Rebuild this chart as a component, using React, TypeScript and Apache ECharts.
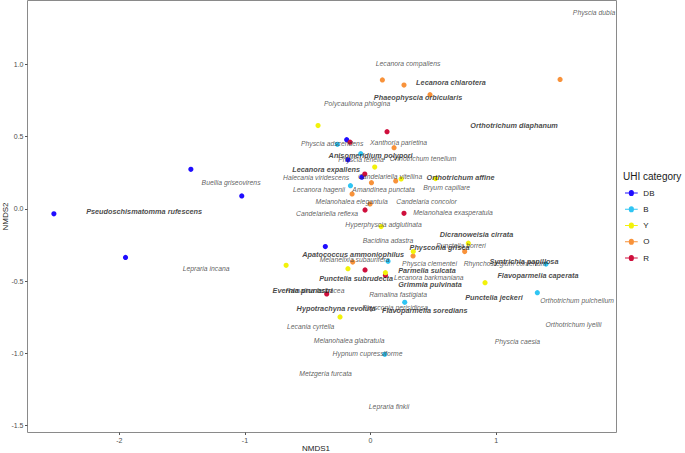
import React, { useEffect, useRef } from "react";
import * as echarts from "echarts";

const categories = ["DB", "B", "Y", "O", "R"];
const categoryColors = ["#1f0dff", "#30c5f3", "#f2f20a", "#f8923a", "#cf0f3c"];

const sitesDB = [[-2.52, -0.033], [-1.95, -0.335], [-1.43, 0.275], [-1.025, 0.09], [-0.19, 0.48], [-0.18, 0.34], [-0.07, 0.22], [-0.36, -0.26]];
const sitesB = [[-0.264, 0.448], [-0.078, 0.383], [-0.16, 0.161], [0.139, -0.362], [0.272, -0.646], [0.113, -1.006], [1.327, -0.579], [1.396, -0.381]];
const sitesY = [[-0.418, 0.577], [0.033, 0.29], [0.243, 0.208], [0.517, 0.211], [0.084, -0.122], [0.778, -0.237], [0.34, -0.295], [-0.672, -0.39], [-0.18, -0.413], [0.118, -0.441], [-0.243, -0.747], [0.911, -0.51]];
const sitesO = [[0.094, 0.893], [0.266, 0.858], [0.473, 0.791], [1.508, 0.897], [0.187, 0.424], [0.007, 0.182], [0.2, 0.194], [-0.147, 0.104], [-0.004, 0.035], [0.338, -0.325], [-0.142, -0.367], [0.749, -0.295]];
const sitesR = [[0.131, 0.535], [-0.163, 0.462], [-0.046, 0.242], [-0.044, -0.007], [0.266, -0.03], [-0.044, -0.422], [0.118, -0.459], [-0.349, -0.588]];

// species: [x, y, name, bold(1/0)]
const species: [number, number, string, number][] = [
  [1.778, 1.361, "Physcia dubia", 0],
  [0.298, 1.008, "Lecanora compallens", 0],
  [0.64, 0.872, "Lecanora chlarotera", 1],
  [0.378, 0.77, "Phaeophyscia orbicularis", 1],
  [-0.107, 0.729, "Polycauliona phlogina", 0],
  [1.142, 0.579, "Orthotrichum diaphanum", 1],
  [-0.306, 0.452, "Physcia adscendens", 0],
  [0.223, 0.459, "Xanthoria parietina", 0],
  [0.0, 0.372, "Anisomeridium polypori", 1],
  [-0.076, 0.344, "Physcia tenella", 0],
  [0.418, 0.346, "Orthotrichum tenellum", 0],
  [-0.354, 0.272, "Lecanora expallens", 1],
  [-0.434, 0.217, "Halecania viridescens", 0],
  [0.155, 0.224, "Candelariella vitellina", 0],
  [0.716, 0.219, "Orthotrichum affine", 1],
  [-0.41, 0.134, "Lecanora hagenii", 0],
  [0.103, 0.134, "Amandinea punctata", 0],
  [0.605, 0.147, "Bryum capillare", 0],
  [-0.151, 0.051, "Melanohalea elegantula", 0],
  [0.445, 0.053, "Candelaria concolor", 0],
  [-0.346, -0.03, "Candelariella reflexa", 0],
  [0.656, -0.023, "Melanohalea exasperatula", 0],
  [-1.11, 0.18, "Buellia griseovirens", 0],
  [-1.802, -0.014, "Pseudoschismatomma rufescens", 1],
  [-1.309, -0.415, "Lepraria incana", 0],
  [0.103, -0.109, "Hyperphyscia adglutinata", 0],
  [0.139, -0.221, "Bacidina adastra", 0],
  [0.843, -0.178, "Dicranoweisia cirrata", 1],
  [0.72, -0.256, "Punctelia borreri", 0],
  [0.549, -0.268, "Physconia grisea", 1],
  [-0.139, -0.318, "Apatococcus ammoniophilus", 1],
  [-0.127, -0.348, "Melanelixia subaurifera", 0],
  [0.469, -0.376, "Physcia clementei", 0],
  [1.07, -0.377, "Rhynchostegium confertum", 0],
  [1.221, -0.362, "Syntrichia papillosa", 1],
  [0.449, -0.427, "Parmelia sulcata", 1],
  [1.332, -0.459, "Flavoparmelia caperata", 1],
  [-0.115, -0.484, "Punctelia subrudecta", 1],
  [0.463, -0.477, "Lecanora barkmaniana", 0],
  [0.473, -0.524, "Grimmia pulvinata", 1],
  [-0.441, -0.561, "Ramalina farinacea", 0],
  [-0.541, -0.561, "Evernia prunastri", 1],
  [0.982, -0.616, "Punctelia jeckeri", 1],
  [1.643, -0.635, "Orthotrichum pulchellum", 0],
  [0.219, -0.595, "Ramalina fastigiata", 0],
  [0.195, -0.685, "Physconia perisidiosa", 0],
  [-0.274, -0.692, "Hypotrachyna revoluta", 1],
  [0.431, -0.701, "Flavoparmelia soredians", 1],
  [-0.477, -0.81, "Lecania cyrtella", 0],
  [-0.171, -0.913, "Melanohalea glabratula", 0],
  [-0.024, -1.003, "Hypnum cupressiforme", 0],
  [-0.358, -1.137, "Metzgeria furcata", 0],
  [0.147, -1.37, "Lepraria finkii", 0],
  [1.615, -0.798, "Orthotrichum lyellii", 0],
  [1.169, -0.918, "Physcia caesia", 0],
];

const xTicks = [-2, -1, 0, 1];
const yTicks = [-1.5, -1, -0.5, 0, 0.5, 1];

const FONT = "'Liberation Sans', Arial, Helvetica, sans-serif";
const LEGEND_ICON =
  "path://M0,2.5H4.2A2.8,2.8 0 0 1 9.8,2.5H14V3.5H9.8A2.8,2.8 0 0 1 4.2,3.5H0Z";

export default function App() {
  const ref = useRef<HTMLDivElement>(null);
  useEffect(() => {
    if (!ref.current) return;
    const chart = echarts.init(ref.current, null, { renderer: "svg" });
    const siteSets = [sitesDB, sitesB, sitesY, sitesO, sitesR];
    const drawOrder = [0, 4, 1, 3, 2];
    const pointSeries = drawOrder.map((i) => ({
      name: categories[i],
      type: "scatter",
      data: siteSets[i],
      symbol: "circle",
      symbolSize: 5.2,
      itemStyle: { color: categoryColors[i], opacity: 1 },
      z: 2,
    }));
    const labelSeries = {
      name: "species",
      type: "scatter",
      symbol: "circle",
      symbolSize: 1,
      itemStyle: { color: "rgba(0,0,0,0)" },
      z: 3,
      data: species.map((s) => ({
        value: [s[0], s[1]],
        name: s[2],
        label: {
          show: true,
          position: "inside",
          formatter: s[2],
          fontFamily: FONT,
          fontStyle: "italic",
          fontWeight: s[3] ? "bold" : "normal",
          fontSize: s[3] ? 7.3 : 6.8,
          color: s[3] ? "#141414" : "#333333",
        },
      })),
    };
    chart.setOption({
      animation: false,
      backgroundColor: "#ffffff",
      grid: {
        left: 27.5,
        right: 68.5,
        top: 0.5,
        bottom: 20.5,
        show: true,
        borderColor: "#8a8a8a",
        borderWidth: 1,
        containLabel: false,
      },
      xAxis: {
        type: "value",
        min: -2.73,
        max: 1.957,
        splitLine: { show: false },
        axisLine: { show: false, onZero: false },
        axisTick: { show: true, length: 2.5, customValues: xTicks, lineStyle: { color: "#555" } },
        axisLabel: {
          customValues: xTicks,
          fontSize: 7,
          color: "#4d4d4d",
          fontFamily: FONT,
          margin: 4,
          formatter: (v: number) => String(v),
        },
      },
      yAxis: {
        type: "value",
        min: -1.547,
        max: 1.443,
        splitLine: { show: false },
        axisLine: { show: false, onZero: false },
        axisTick: { show: true, length: 2.5, customValues: yTicks, lineStyle: { color: "#555" } },
        axisLabel: {
          customValues: yTicks,
          fontSize: 7,
          color: "#4d4d4d",
          fontFamily: FONT,
          margin: 4,
          formatter: (v: number) => v.toFixed(1),
        },
      },
      legend: {
        orient: "vertical",
        left: 625,
        top: 188,
        padding: 0,
        itemWidth: 14,
        itemHeight: 6,
        itemGap: 6.25,
        data: categories.map((c) => ({ name: c, icon: LEGEND_ICON })),
        textStyle: { fontSize: 8, color: "#1a1a1a", fontFamily: FONT, lineHeight: 10 },
        selectedMode: false,
      },
      graphic: [
        {
          type: "text",
          x: 316,
          y: 448,
          style: { text: "NMDS1", font: `8px ${FONT}`, fill: "#1a1a1a", textAlign: "center", textVerticalAlign: "middle" },
        },
        {
          type: "text",
          x: 5,
          y: 216.5,
          rotation: Math.PI / 2,
          style: { text: "NMDS2", font: `8px ${FONT}`, fill: "#1a1a1a", textAlign: "center", textVerticalAlign: "middle" },
        },
        {
          type: "text",
          x: 623,
          y: 176,
          style: { text: "UHI category", font: `10px ${FONT}`, fill: "#1a1a1a", textAlign: "left", textVerticalAlign: "middle" },
        },
      ],
      series: [...pointSeries, labelSeries],
    });
    return () => chart.dispose();
  }, []);
  return <div ref={ref} style={{ position: "absolute", left: 0, top: 0, width: 685, height: 453 }} />;
}
